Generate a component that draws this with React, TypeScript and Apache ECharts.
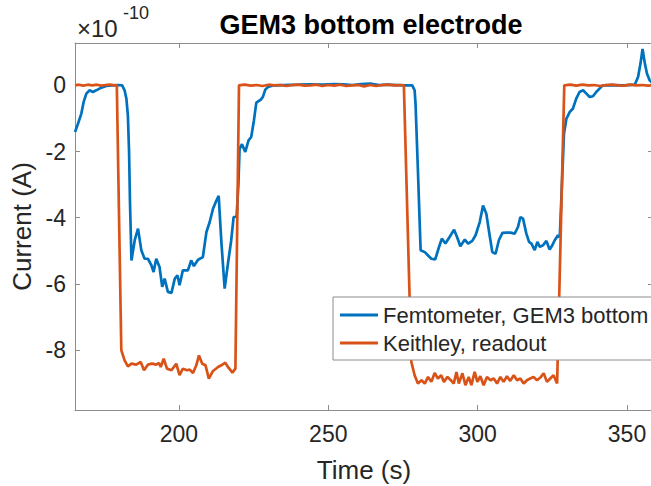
import React, { useEffect, useRef } from "react";
import * as echarts from "echarts";

// Femtometer, GEM3 bottom (units of 1e-10 A)
const femtoTime = [
  165.2, 166.2, 167.3, 168.1, 169.0, 170.1, 171.2, 172.3, 174.0, 175.7,
  177.5, 179.5, 181.0, 181.8, 182.4, 182.9, 183.3, 183.6, 184.1, 185.2,
  186.3, 187.4, 188.5, 189.6, 190.8, 191.5, 192.4, 193.5, 194.4, 195.2,
  196.3, 197.5, 198.6, 199.5, 200.2, 201.3, 203.0, 204.1, 205.0, 206.4,
  208.0, 209.2, 210.3, 211.4, 212.3, 213.3, 214.2, 215.3, 216.4, 217.5,
  218.3, 219.3, 219.9, 220.3, 221.1, 222.2, 223.3, 224.2, 225.1, 225.9,
  227.4, 228.1, 228.9, 229.8, 231.5, 235, 240, 244, 248, 252,
  255, 258, 261, 264, 267, 270, 273, 276, 278.1, 278.9,
  279.2, 280.0, 280.9, 282.3, 283.4, 284.5, 285.8, 286.9, 288.0, 289.2,
  290.6, 292.1, 293.1, 294.2, 295.7, 296.8, 298.2, 299.3, 300.7, 301.8,
  302.9, 304.0, 304.9, 306.0, 307.1, 308.3, 309.6, 311.0, 312.4, 313.5,
  314.3, 315.2, 316.3, 317.2, 318.0, 319.1, 320.0, 320.8, 321.9, 323.0,
  324.1, 325.0, 325.8, 326.9, 327.5, 328.9, 329.7, 330.8, 331.9, 333.0,
  334.1, 335.3, 336.4, 337.5, 338.6, 339.7, 340.8, 341.9, 345, 349,
  352.6, 353.7, 354.5, 355.2, 356.0, 356.7, 357.6, 358.7,
];
const femtoCurrent = [
  -1.41, -1.16, -0.86, -0.5, -0.25, -0.15, -0.2, -0.15, -0.07, -0.02,
  0, 0.01, 0, -0.15, -0.4, -0.9, -2.0, -3.5, -5.29, -4.68,
  -4.33, -4.98, -5.24, -5.24, -5.44, -5.64, -5.24, -5.49, -6.09, -5.84,
  -6.24, -6.27, -5.84, -5.74, -6.04, -5.59, -5.59, -5.29, -5.46, -5.27,
  -5.19, -4.43, -4.13, -3.73, -3.53, -3.34, -4.73, -6.14, -5.39, -4.68,
  -3.98, -3.96, -3.0, -1.91, -1.78, -2.01, -1.66, -1.56, -1.06, -0.52,
  -0.43, -0.35, -0.13, -0.05, 0, 0.01, 0.02, 0.03, 0.02, 0.04,
  0.03, 0.01, 0.04, 0.05, 0.01, 0.02, 0.01, 0, 0, -0.15,
  -0.55, -2.57, -4.98, -5.04, -5.14, -5.24, -5.26, -4.93, -4.63, -4.78,
  -4.58, -4.36, -4.58, -4.86, -4.66, -4.78, -4.7, -4.53, -4.13, -3.63,
  -3.88, -4.53, -5.04, -5.09, -4.68, -4.46, -4.45, -4.45, -4.48, -4.28,
  -3.98, -4.03, -4.48, -4.73, -4.78, -4.98, -4.73, -4.88, -4.83, -4.7,
  -4.96, -4.83, -4.68, -4.53, -4.58, -1.46, -1.01, -0.81, -0.7, -0.4,
  -0.2, -0.15, -0.25, -0.35, -0.33, -0.2, -0.1, 0, 0.01, 0,
  0.02, 0.25, 0.65, 1.1, 0.65, 0.35, 0.15, 0.05,
];

// Keithley, readout (units of 1e-10 A)
const keithTime = [
  165.2, 166.5, 168, 169.5, 171, 172.5, 174, 175.5, 177, 178.3,
  179.2, 180.7, 181.8, 182.9, 184.1, 185.7, 187.2, 188.3, 189.6, 191.0,
  192.4, 193.3, 193.9, 194.9, 196.0, 197.5, 199.1, 200.2, 201.3, 202.7,
  203.6, 204.7, 205.8, 206.7, 207.8, 208.9, 210.0, 211.4, 213.1, 214.2,
  215.5, 216.6, 217.9, 218.9, 220.1, 222, 224, 226, 228, 230,
  232, 234, 236, 238, 240, 242, 244, 246, 248, 250,
  252, 254, 256, 258, 260, 262, 264, 266, 268, 270,
  272, 274, 275.3, 277.8, 278.9, 280.0, 281.2, 282.3, 283.4, 284.5,
  285.6, 286.7, 287.8, 288.7, 289.9, 291.0, 292.0, 292.9, 293.7, 294.9,
  295.9, 297.0, 297.9, 299.0, 299.9, 300.9, 302.0, 303.1, 304.3, 305.4,
  306.5, 307.6, 308.7, 309.8, 310.9, 312.1, 313.2, 314.3, 315.4, 316.5,
  317.6, 318.7, 319.9, 321.0, 322.1, 323.2, 324.3, 325.4, 326.6, 329.0,
  331, 333, 335, 337, 339, 341, 343, 345, 347, 349,
  351, 353, 355, 357, 358.7,
];
const keithCurrent = [
  0, 0.02, -0.01, 0.02, 0, 0.02, -0.01, 0.01, 0.02, 0,
  0, -8.0, -8.31, -8.49, -8.41, -8.44, -8.36, -8.61, -8.44, -8.41,
  -8.44, -8.39, -8.51, -8.26, -8.56, -8.61, -8.41, -8.76, -8.56, -8.61,
  -8.59, -8.69, -8.46, -8.16, -8.41, -8.46, -8.86, -8.63, -8.51, -8.46,
  -8.38, -8.53, -8.68, -8.56, 0, 0.02, -0.01, 0.01, -0.02, 0.02,
  0, 0.01, -0.02, 0.01, 0.02, -0.01, 0, 0.02, -0.02, 0.01,
  -0.01, 0.02, -0.02, 0, 0.01, -0.03, 0.01, -0.02, 0.01, 0.02,
  0, 0.01, 0, -8.36, -8.76, -9.01, -8.91, -9.01, -8.81, -8.96,
  -8.69, -8.86, -8.76, -8.96, -8.81, -8.91, -9.01, -8.66, -9.01, -8.7,
  -9.06, -8.81, -9.06, -8.66, -8.96, -8.79, -9.06, -8.81, -8.91, -8.86,
  -9.01, -8.81, -8.96, -8.79, -8.93, -8.76, -8.91, -8.86, -9.01, -8.91,
  -8.86, -8.81, -8.91, -8.83, -8.7, -8.96, -8.86, -8.76, -9.01, 0,
  0.02, -0.01, 0.02, 0, 0.01, -0.02, 0.01, 0.02, 0, -0.01,
  0.02, 0, 0.01, -0.01, 0.01,
];

const xTicks = [200, 250, 300, 350];
const yTicks = [-8, -6, -4, -2, 0];
const seriesNames = ["Femtometer, GEM3 bottom", "Keithley, readout"];

const FONT = "'Liberation Sans', Arial, Helvetica, sans-serif";
const TXT = "#262626";
const AX = "#8c8c8c";

export default function App() {
  const ref = useRef<HTMLDivElement>(null);
  useEffect(() => {
    if (!ref.current) return;
    const chart = echarts.init(ref.current, null, { renderer: "svg" });
    const xMin = 165.2, xMax = 358.7, yMin = -9.81, yMax = 1.28;
    const baseX = {
      type: "value", min: xMin, max: xMax,
      splitLine: { show: false },
      axisLine: { show: true, onZero: false, lineStyle: { color: AX, width: 1 } },
      axisTick: { show: true, inside: true, length: 5, customValues: xTicks, lineStyle: { color: AX } },
    };
    const baseY = {
      type: "value", min: yMin, max: yMax,
      splitLine: { show: false },
      axisLine: { show: true, onZero: false, lineStyle: { color: AX, width: 1 } },
      axisTick: { show: true, inside: true, length: 5, customValues: yTicks, lineStyle: { color: AX } },
    };
    chart.setOption({
      animation: false,
      backgroundColor: "#ffffff",
      title: {
        text: "GEM3 bottom electrode",
        left: 366, top: 6, textAlign: "center",
        textStyle: { fontSize: 27, fontWeight: "bold", color: "#000", fontFamily: FONT },
      },
      grid: { left: 75, top: 43, width: 578, height: 367, containLabel: false, outerBoundsMode: "none" },
      xAxis: [
        {
          ...baseX, position: "bottom",
          name: "Time (s)", nameLocation: "middle", nameGap: 47,
          nameTextStyle: { fontSize: 26, color: TXT, fontFamily: FONT },
          axisLabel: { show: true, customValues: xTicks, fontSize: 23, color: TXT, fontFamily: FONT, margin: 12, formatter: (v: number) => String(v) },
        },
        { ...baseX, position: "top", axisLabel: { show: false } },
      ],
      yAxis: [
        {
          ...baseY, position: "left",
          name: "Current (A)", nameLocation: "middle", nameGap: 32,
          nameTextStyle: { fontSize: 26, color: TXT, fontFamily: FONT },
          axisLabel: { show: true, customValues: yTicks, fontSize: 23, color: TXT, fontFamily: FONT, margin: 9, formatter: (v: number) => String(v) },
        },
        { ...baseY, position: "right", axisLabel: { show: false } },
      ],
      legend: {
        orient: "vertical", left: 333, top: 297,
        padding: [6, 24, 5, 7], itemGap: 4, itemWidth: 38, itemHeight: 3,
        icon: "rect",
        backgroundColor: "#ffffff", borderColor: "#8c8c8c", borderWidth: 1, borderRadius: 0,
        textStyle: { fontSize: 22, color: TXT, fontFamily: FONT, lineHeight: 24 },
        data: seriesNames,
      },
      graphic: [
        { type: "text", left: 77, top: 16, style: { text: "×10", fontSize: 24, fill: TXT, fontFamily: FONT } },
        { type: "text", left: 123, top: 4, style: { text: "-10", fontSize: 18, fill: TXT, fontFamily: FONT } },
      ],
      series: [
        {
          name: seriesNames[0], type: "line", xAxisIndex: 0, yAxisIndex: 0,
          symbol: "none", lineStyle: { color: "#0072BD", width: 2.7 }, itemStyle: { color: "#0072BD" },
          data: femtoTime.map((t, i) => [t, femtoCurrent[i]]),
        },
        {
          name: seriesNames[1], type: "line", xAxisIndex: 0, yAxisIndex: 0,
          symbol: "none", lineStyle: { color: "#D95319", width: 2.7 }, itemStyle: { color: "#D95319" },
          data: keithTime.map((t, i) => [t, keithCurrent[i]]),
        },
      ],
    });
    return () => chart.dispose();
  }, []);
  return <div ref={ref} style={{ position: "fixed", left: 0, top: 0, width: 651, height: 486 }} />;
}
